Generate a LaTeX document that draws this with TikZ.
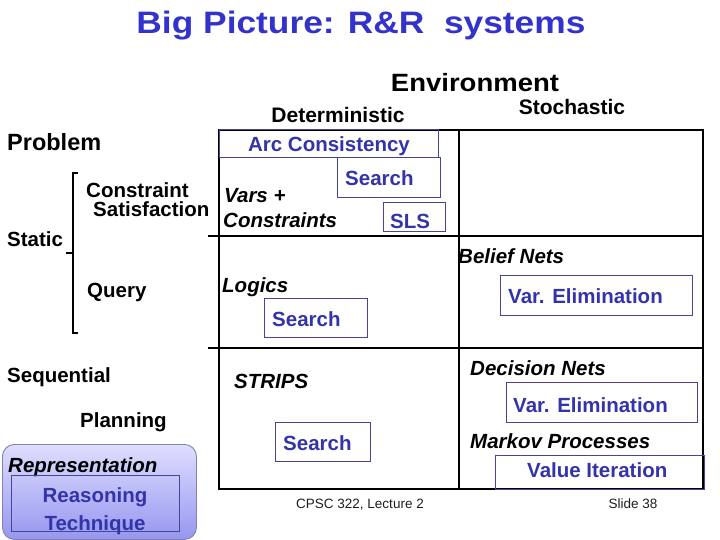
\documentclass[tikz,border=0pt]{standalone}
\usepackage{fontspec}
\setmainfont{Liberation Sans}
\newcommand\fs[1]{\fontsize{#1}{#1}\selectfont}
\definecolor{tblue}{RGB}{51,51,204}
\definecolor{kblue}{RGB}{51,51,170}
\definecolor{bxline}{RGB}{70,70,150}
\definecolor{reptop}{RGB}{222,222,255}
\definecolor{repbot}{RGB}{150,150,240}
\definecolor{repline}{RGB}{130,130,175}
\definecolor{foot}{RGB}{30,30,30}
\tikzset{
  lbl/.style={anchor=base west, inner sep=0pt, font=\fs{20.5}\bfseries},
  ilbl/.style={anchor=base west, inner sep=0pt, font=\fs{20.5}\bfseries\itshape},
  blbl/.style={anchor=base west, inner sep=0pt, font=\fs{20.5}\bfseries, text=kblue},
  bx/.style={draw=bxline, line width=0.9pt, inner sep=0pt, anchor=north west},
  grid/.style={line width=1.1pt, black},
  brk/.style={line width=2.6pt, black}
}
\begin{document}
\begin{tikzpicture}[x=1pt,y=-1pt]
\useasboundingbox (0,0) rectangle (720,540);
% title
\node[anchor=base, inner sep=0pt, font=\fs{31}\bfseries, text=tblue] (title) at (361,34) {\scalebox{1.14}[1]{Big Picture: R\&R\ \ systems}};
\node[anchor=base, inner sep=0pt, font=\fs{25}\bfseries] (env) at (475,92) {\scalebox{1.1}[1]{Environment}};
\node[anchor=base, inner sep=0pt, font=\fs{21}\bfseries] (det) at (338,123) {Deterministic};
\node[anchor=base, inner sep=0pt, font=\fs{21}\bfseries] (sto) at (572,115) {Stochastic};
\node[anchor=base west, inner sep=0pt, font=\fs{23.5}\bfseries] (problem) at (7,151) {Problem};
% grid
\coordinate (tl) at (219,130);
\coordinate (tm) at (459,130);
\coordinate (tr) at (703,130);
\coordinate (bl) at (219,489);
\coordinate (bm) at (459,489);
\coordinate (br) at (703,489);
\coordinate (h1l) at (208,236);
\coordinate (h1r) at (703,236);
\coordinate (h2l) at (208,348);
\coordinate (h2r) at (703,348);
\draw[grid] (tl) -- (tr) -- (br) -- (bl) -- cycle;
\draw[grid] (tm) -- (bm);
\draw[grid] (h1l) -- (h1r);
\draw[grid] (h2l) -- (h2r);
% bracket
\coordinate (bt) at (78,173);
\coordinate (bb) at (78,333);
\coordinate (bmid) at (73,253);
\coordinate (btick) at (66,253);
\draw[brk] (bt) -- (73,173) -- (73,333) -- (bb);
\draw[brk] (bmid) -- (btick);
% left labels
\node[lbl] (constraint) at (86,197) {Constraint};
\node[lbl] (satisf) at (93,217) {Satisfaction};
\node[lbl] (static) at (7,247) {Static};
\node[lbl] (query) at (87,297) {Query};
\node[lbl] (sequential) at (7,382) {Sequential};
\node[lbl] (planning) at (80,427) {Planning};
% boxes
\node[bx, minimum width=219pt, minimum height=28pt] (arcbox) at (219,129) {};
\node[blbl, anchor=base] (arc) at (329,152) {Arc Consistency};
\node[bx, minimum width=103pt, minimum height=40pt] (s1box) at (337,157) {};
\node[blbl] (s1) at (345,186) {Search};
\node[bx, minimum width=62pt, minimum height=29pt] (slsbox) at (383,202) {};
\node[blbl] (sls) at (390,229) {SLS};
\node[ilbl] (vars) at (224,203) {Vars +};
\node[ilbl] (constraints) at (223,228) {Constraints};
\node[ilbl] (logics) at (222,292) {Logics};
\node[bx, minimum width=103pt, minimum height=39pt] (s2box) at (264,298) {};
\node[blbl] (s2) at (272,326) {Search};
\node[ilbl] (strips) at (234,388) {STRIPS};
\node[bx, minimum width=95pt, minimum height=39pt] (s3box) at (275,422) {};
\node[blbl] (s3) at (283,450) {Search};
\node[ilbl] (belief) at (458,263) {Belief Nets};
\node[bx, minimum width=192pt, minimum height=40pt] (ve1box) at (500,275) {};
\node[blbl] (ve1) at (508,303) {Var. Elimination};
\node[ilbl] (decision) at (470,375) {Decision Nets};
\node[bx, minimum width=191pt, minimum height=40pt] (ve2box) at (506,382) {};
\node[blbl] (ve2) at (513,412) {Var. Elimination};
\node[ilbl] (markov) at (470,448) {Markov Processes};
\node[bx, minimum width=209pt, minimum height=34pt] (vibox) at (495,455) {};
\node[blbl] (vi) at (527,477) {Value Iteration};
% representation legend
\node[rounded corners=12pt, draw=repline, line width=0.9pt, top color=reptop, bottom color=repbot, minimum width=194pt, minimum height=95pt, anchor=north west, inner sep=0pt] (repbox) at (2,444) {};
\node[ilbl] (rep) at (8,472) {Representation};
\node[bx, minimum width=168pt, minimum height=56pt] (rtbox) at (11,475) {};
\node[blbl, anchor=base] (reas) at (95,502) {Reasoning};
\node[blbl, anchor=base] (tech) at (95,530) {Technique};
% footer
\node[anchor=base, inner sep=0pt, font=\fs{13.5}, text=foot] (footl) at (360,508) {CPSC 322, Lecture 2};
\node[anchor=base, inner sep=0pt, font=\fs{13.5}, text=foot] (footr) at (633,508) {Slide 38};
\end{tikzpicture}
\end{document}
